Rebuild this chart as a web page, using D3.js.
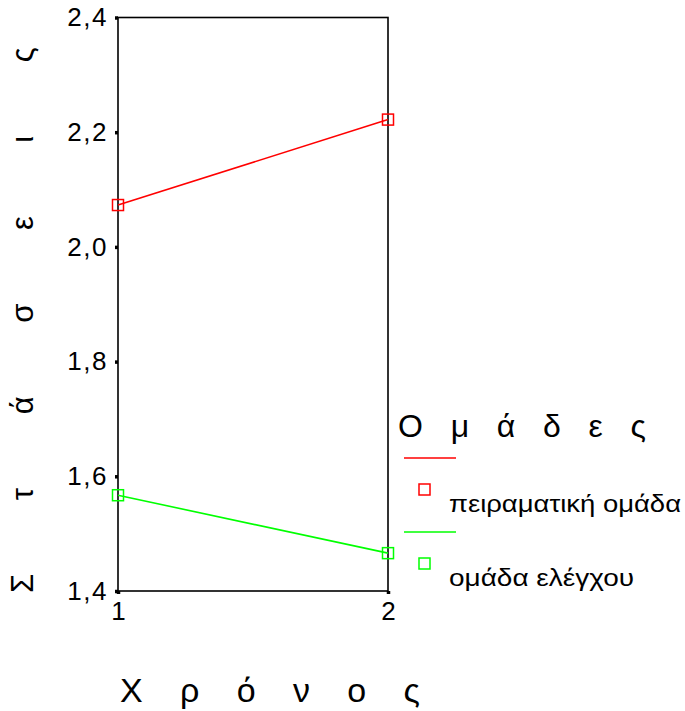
<!DOCTYPE html>
<html>
<head>
<meta charset="utf-8">
<script src="https://cdn.jsdelivr.net/npm/d3@7"></script>
<style>
  body { margin: 0; background: #fff; position: relative; }
  text { font-family: "Liberation Sans", Arial, sans-serif; fill: #000; }
  svg { display: block; }
  .y-title {
    position: absolute;
    font-family: "Liberation Sans", Arial, sans-serif;
    line-height: 1;
    white-space: pre;
    transform-origin: 0 0;
    transform: rotate(-90deg);
  }
</style>
</head>
<body>
<svg id="chart" width="685" height="711"></svg>
<script>
// chart data
const times = [1, 2]
const groups = ["πειραματική ομάδα", "ομάδα ελέγχου"]
const groupColors = ["#ff0000", "#00ff00"]
const experimental = [2.073, 2.222]
const control = [1.567, 1.466]
const yTicks = [1.4, 1.6, 1.8, 2.0, 2.2, 2.4]

const series = [experimental, control]

const svg = d3.select("#chart")

const plot = { left: 118, right: 388, top: 17.5, bottom: 591 }

const x = d3.scaleLinear().domain([1, 2]).range([plot.left, plot.right])
const y = d3.scaleLinear().domain([1.4, 2.4]).range([plot.bottom, plot.top])

const locale = d3.formatLocale({ decimal: ",", thousands: ".", grouping: [3], currency: ["", ""] })
const fmt = locale.format(".1f")

// frame
svg.append("rect")
    .attr("x", plot.left)
    .attr("y", plot.top)
    .attr("width", plot.right - plot.left)
    .attr("height", plot.bottom - plot.top)
    .attr("fill", "none")
    .attr("stroke", "#000")
    .attr("stroke-width", 1.6)

// y axis
const yAxis = svg.append("g")
    .attr("transform", `translate(${plot.left},0)`)
    .call(d3.axisLeft(y).tickValues(yTicks).tickFormat(fmt).tickSize(3).tickPadding(7))
yAxis.select(".domain").remove()
yAxis.selectAll(".tick line").attr("stroke-width", 3.5)
yAxis.selectAll(".tick text")
    .attr("font-size", 26)
    .attr("font-family", "Liberation Sans, Arial, sans-serif")
    .attr("letter-spacing", 1.5)

// x axis
const xAxis = svg.append("g")
    .attr("transform", `translate(0,${plot.bottom})`)
    .call(d3.axisBottom(x).tickValues(times).tickFormat(d3.format("d")).tickSize(3).tickPadding(8))
xAxis.select(".domain").remove()
xAxis.selectAll(".tick line").attr("stroke-width", 3.5)
xAxis.selectAll(".tick text")
    .attr("font-size", 26)
    .attr("font-family", "Liberation Sans, Arial, sans-serif")

// lines and markers
const line = d3.line()
    .x((d, i) => x(times[i]))
    .y(d => y(d))

series.forEach((values, s) => {
    svg.append("path")
        .datum(values)
        .attr("d", line)
        .attr("fill", "none")
        .attr("stroke", groupColors[s])
        .attr("stroke-width", 1.6)

    svg.selectAll(null)
        .data(values)
        .enter().append("rect")
        .attr("x", (d, i) => x(times[i]) - 5.5)
        .attr("y", d => y(d) - 5.5)
        .attr("width", 11)
        .attr("height", 11)
        .attr("fill", "none")
        .attr("stroke", groupColors[s])
        .attr("stroke-width", 1.5)
})

// y title, turned on its side (html so the glyphs rotate too)
d3.select("body").append("div")
    .attr("class", "y-title")
    .style("left", "7px")
    .style("top", "593px")
    .style("font-size", "31px")
    .style("letter-spacing", "32.5px")
    .text("Σ τ ά σ ε ι ς")

svg.append("text")
    .attr("x", 270)
    .attr("y", 702)
    .attr("text-anchor", "middle")
    .attr("font-size", 34)
    .attr("textLength", 300)
    .attr("lengthAdjust", "spacing")
    .text("Χ ρ ό ν ο ς")

// legend
svg.append("text")
    .attr("x", 398)
    .attr("y", 437)
    .attr("font-size", 32)
    .attr("textLength", 248)
    .attr("lengthAdjust", "spacing")
    .text("Ο μ ά δ ε ς")

const legendWidths = [232, 185]

const legend = svg.selectAll(".legend-item")
    .data(groups)
    .enter().append("g")
    .attr("class", "legend-item")
    .attr("transform", (d, i) => `translate(0,${i * 74})`)

legend.append("line")
    .attr("x1", 404).attr("x2", 456)
    .attr("y1", 458).attr("y2", 458)
    .attr("stroke", (d, i) => groupColors[i])
    .attr("stroke-width", 1.6)

legend.append("rect")
    .attr("x", 419).attr("y", 484)
    .attr("width", 11).attr("height", 11)
    .attr("fill", "none")
    .attr("stroke", (d, i) => groupColors[i])
    .attr("stroke-width", 1.5)

legend.append("text")
    .attr("x", 449)
    .attr("y", 512)
    .attr("font-size", 24)
    .attr("textLength", (d, i) => legendWidths[i])
    .attr("lengthAdjust", "spacingAndGlyphs")
    .text(d => d)
</script>
</body>
</html>
